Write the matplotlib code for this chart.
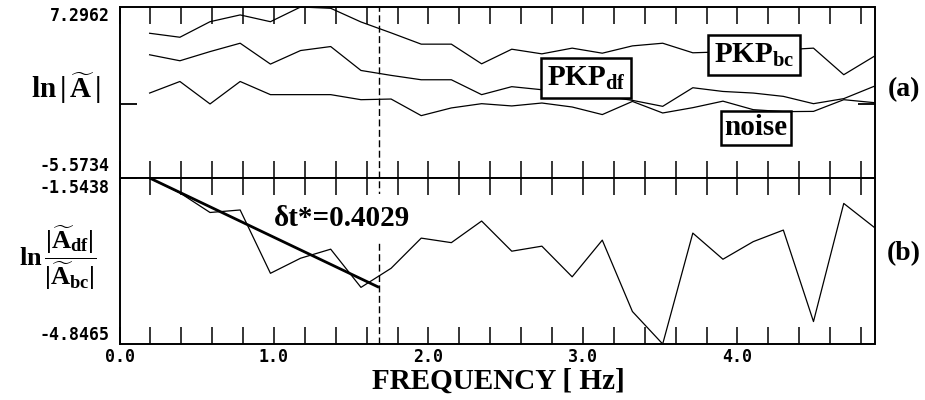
import numpy as np
import matplotlib.pyplot as plt

# frequency samples (Hz) and spectra
freq = [0.195, 0.391, 0.586, 0.781, 0.977, 1.172, 1.367, 1.563, 1.758, 1.953,
        2.148, 2.344, 2.539, 2.734, 2.930, 3.125, 3.320, 3.516, 3.711, 3.906,
        4.102, 4.297, 4.492, 4.688, 4.883]
pkp_bc = [5.32, 5.02, 6.19, 6.70, 6.19, 7.2962, 7.20, 6.17, 5.35, 4.50,
          4.50, 3.02, 4.12, 3.77, 4.20, 3.82, 4.37, 4.57, 3.85, 3.92,
          4.07, 4.07, 4.20, 2.20, 3.57]
pkp_df = [3.70, 3.25, 3.94, 4.57, 3.00, 4.02, 4.32, 2.52, 2.15, 1.82,
          1.82, 0.70, 1.30, 1.07, 0.92, 0.62, 0.27, -0.18, 1.22, 0.94,
          0.82, 0.57, 0.02, 0.40, 1.32]
noise = [0.82, 1.69, 0.00, 1.69, 0.70, 0.70, 0.70, 0.32, 0.37, -0.88,
         -0.30, 0.02, -0.15, 0.07, -0.23, -0.80, 0.19, -0.68, -0.28, 0.21,
         -0.43, -0.58, -0.56, 0.32, 0.10]
ratio = [-1.5438, -1.84, -2.23, -2.18, -3.44, -3.14, -2.96, -3.72, -3.34, -2.74,
         -2.83, -2.40, -3.00, -2.90, -3.51, -2.78, -4.20, -4.8465, -2.64, -3.16,
         -2.81, -2.58, -4.40, -2.05, -2.52]

# linear fit segment and cut-off frequency
fit_freq = [0.195, 1.68]
fit_vals = [-1.5438, -3.72]
f_cut = 1.68
dt_star = 0.4029

ylim_a = (-5.5734, 7.2962)
ylim_b = (-4.8465, -1.5438)
x_max = 4.887

plt.rcParams['mathtext.fontset'] = 'custom'
plt.rcParams['mathtext.rm'] = 'Liberation Serif:bold'
plt.rcParams['mathtext.it'] = 'Liberation Serif:bold:italic'
plt.rcParams['mathtext.bf'] = 'Liberation Serif:bold'

serif = dict(family='Liberation Serif', weight='bold')
mono = dict(family='DejaVu Sans Mono', weight='bold', size=12)

fig = plt.figure(figsize=(9.25, 4), dpi=100)
left, width = 119.5 / 925, 755 / 925
ax1 = fig.add_axes([left, 1 - 178 / 400, width, 171 / 400])
ax2 = fig.add_axes([left, 1 - 344 / 400, width, 166 / 400])

ticks = np.arange(0, 4.81, 0.2)
tick_labels = ['%.1f' % t if abs(t - round(t)) < 1e-6 else '' for t in ticks]

for ax in (ax1, ax2):
    ax.set_xlim(0, x_max)
    ax.set_xticks(ticks)
    ax.tick_params(axis='x', direction='in', length=12, width=1.1,
                   top=True, bottom=True)
    ax.tick_params(axis='y', direction='in', length=12, width=1.3,
                   left=True, right=True, labelleft=False)
    for s in ax.spines.values():
        s.set_linewidth(1.4)
    ax.axvline(f_cut, color='black', lw=1, linestyle=(0, (5, 2.5)), zorder=1)

# panel (a)
ax1.plot(freq, pkp_bc, color='black', lw=0.9, zorder=2)
ax1.plot(freq, pkp_df, color='black', lw=0.9, zorder=2)
ax1.plot(freq, noise, color='black', lw=0.9, zorder=2)
ax1.set_ylim(*ylim_a)
ax1.set_yticks([0])
ax1.tick_params(axis='x', labelbottom=False)

box = dict(boxstyle='square,pad=0.2', facecolor='white', edgecolor='black', lw=1.8)
ax1.text(3.02, 1.97, r'$\mathrm{PKP}_{\mathrm{df}}$', fontsize=21, ha='center', va='center',
         bbox=box, zorder=5)
ax1.text(4.11, 3.70, r'$\mathrm{PKP}_{\mathrm{bc}}$', fontsize=21, ha='center', va='center',
         bbox=box, zorder=5)
ax1.text(4.12, -1.78, 'noise', fontsize=21, ha='center', va='center',
         bbox=dict(boxstyle='square,pad=0.12', facecolor='white', edgecolor='black', lw=1.8),
         zorder=5, **serif)

ax1.annotate('%.4f' % ylim_a[1], xy=(0, 1), xycoords='axes fraction', xytext=(-7, 0),
             textcoords='offset points', ha='right', va='top', **mono)
ax1.annotate('%.4f' % ylim_a[0], xy=(0, 0), xycoords='axes fraction', xytext=(-7, 2),
             textcoords='offset points', ha='right', va='bottom', **mono)

# panel (b)
ax2.plot(freq, ratio, color='black', lw=0.9, zorder=2)
ax2.plot(fit_freq, fit_vals, color='black', lw=2.0, solid_capstyle='butt', zorder=2)
ax2.set_ylim(*ylim_b)
ax2.set_yticks([ylim_b[1]])
ax2.set_xticklabels(tick_labels, **mono)
ax2.tick_params(axis='x', pad=3)
# white box only masks the dashed cut-off line, data lines stay on top
ax2.text(1.44, -2.34, 'δt*=%.4f' % dt_star, fontsize=21, ha='center', va='center',
         bbox=dict(boxstyle='square,pad=0.35', facecolor='white', edgecolor='none'),
         zorder=1.5, **serif)

ax2.annotate('%.4f' % ylim_b[1], xy=(0, 1), xycoords='axes fraction', xytext=(-7, -1),
             textcoords='offset points', ha='right', va='top', **mono)
ax2.annotate('%.4f' % ylim_b[0], xy=(0, 0), xycoords='axes fraction', xytext=(-7, 0),
             textcoords='offset points', ha='right', va='bottom', **mono)

# axis labels
fig.text(66 / 925, 1 - 88 / 400, r'$\mathrm{ln}\,|\,\widetilde{\mathrm{A}}\,|$',
         fontsize=21, ha='center', va='center')
fig.text(58 / 925, 1 - 258 / 400,
         r'$\mathrm{ln}\,\dfrac{|\widetilde{\mathrm{A}}_{\mathrm{df}}|}{|\widetilde{\mathrm{A}}_{\mathrm{bc}}|}$',
         fontsize=19, ha='center', va='center')
fig.text(904 / 925, 1 - 90 / 400, '(a)', fontsize=20, ha='center', va='center', **serif)
fig.text(904 / 925, 1 - 254 / 400, '(b)', fontsize=20, ha='center', va='center', **serif)
fig.text(498 / 925, 1 - 381 / 400, 'FREQUENCY [ Hz]', fontsize=21, ha='center',
         va='center', **serif)

fig.savefig('out.png', dpi=100)
